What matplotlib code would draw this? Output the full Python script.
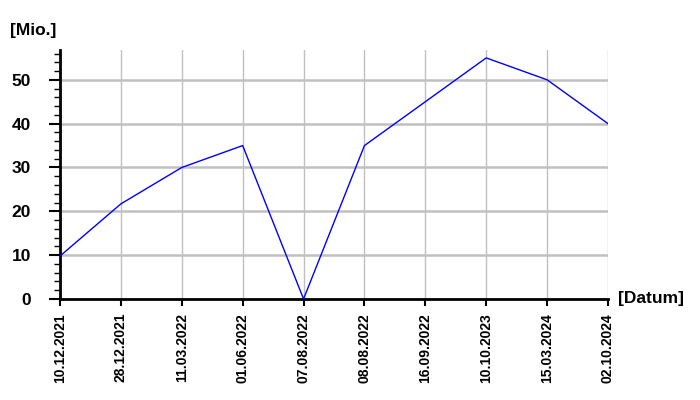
import matplotlib
matplotlib.use("Agg")
import matplotlib.pyplot as plt
from matplotlib.ticker import MultipleLocator

plt.rcParams['font.family'] = ['Liberation Sans', 'DejaVu Sans']
plt.rcParams['font.weight'] = 'bold'

dates = ["10.12.2021", "28.12.2021", "11.03.2022", "01.06.2022", "07.08.2022",
         "08.08.2022", "16.09.2022", "10.10.2023", "15.03.2024", "02.10.2024"]
values = [9.8, 21.7, 30, 35, 0, 35, 45, 55, 50, 40]

fig = plt.figure(figsize=(7, 4), dpi=100)
ax = fig.add_axes([60/700, 1-299/400, 548/700, 249/400])

x = list(range(len(dates)))
ax.plot(x, values, color="#0000ff", lw=1.0, zorder=3)

ax.set_xlim(0, len(dates)-1)
ax.set_ylim(0, 56.8)
ax.set_xticks(x)
ax.set_xticklabels(dates, rotation=90, fontsize=10, fontweight='bold')
ax.yaxis.set_major_locator(MultipleLocator(10))
ax.yaxis.set_minor_locator(MultipleLocator(2))
ax.tick_params(axis='y', which='major', length=8, width=1.5, labelsize=12.5, pad=13)
ax.tick_params(axis='y', which='minor', length=4, width=1)
ax.tick_params(axis='x', which='major', length=5, width=1.5, pad=5)

ax.grid(axis='y', color="#c0c0c0", lw=1.8)
ax.grid(axis='x', color="#c0c0c0", lw=1.0)
ax.set_axisbelow(True)

for s in ["top", "right"]:
    ax.spines[s].set_visible(False)
ax.spines["left"].set_linewidth(2)
ax.spines["bottom"].set_linewidth(2)

fig.text(10/700, 1-30/400, "[Mio.]", fontsize=12.5, fontweight='bold', va="center", ha="left")
fig.text(618/700, 1-299/400, "[Datum]", fontsize=12.5, fontweight='bold', va="center", ha="left")

fig.savefig("out.png", dpi=100)
